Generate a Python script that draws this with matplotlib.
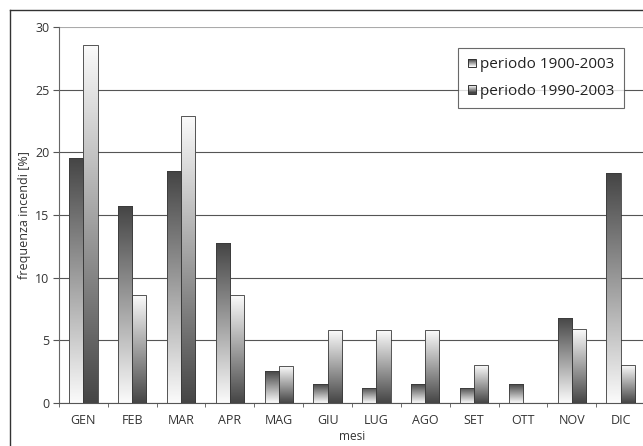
import numpy as np
import matplotlib
matplotlib.use("Agg")
import matplotlib.pyplot as plt
from matplotlib.colors import LinearSegmentedColormap
from matplotlib.lines import Line2D
from matplotlib.patches import Rectangle
from matplotlib.legend_handler import HandlerBase

mesi = ["GEN", "FEB", "MAR", "APR", "MAG", "GIU", "LUG", "AGO", "SET", "OTT", "NOV", "DIC"]
periodo_1900_2003 = [19.55, 15.7, 18.5, 12.75, 2.55, 1.5, 1.2, 1.5, 1.2, 1.5, 6.8, 18.35]
periodo_1990_2003 = [28.6, 8.6, 22.9, 8.6, 2.95, 5.8, 5.8, 5.8, 3.0, 0.0, 5.9, 3.0]
labels = ["periodo 1900-2003", "periodo 1990-2003"]

plt.rcParams["font.family"] = ["Open Sans", "DejaVu Sans"]

DARK = "#454545"
LIGHT = "#fbfbfb"
cmap_down = LinearSegmentedColormap.from_list("down", [LIGHT, DARK])  # dark on top
cmap_up = LinearSegmentedColormap.from_list("up", [DARK, LIGHT])      # light on top


class GradientHandler(HandlerBase):
    """Small square legend key filled with a stepped vertical gradient."""

    def __init__(self, dark_top):
        super().__init__()
        self.dark_top = dark_top

    def create_artists(self, legend, orig_handle, xdescent, ydescent,
                       width, height, fontsize, trans):
        size = min(width, height) * 0.8
        x0 = -xdescent + (width - size) / 2
        y0 = -ydescent + (height - size) / 2
        n = 8
        cm = cmap_down if self.dark_top else cmap_up
        arts = []
        for i in range(n):
            r = Rectangle((x0, y0 + i * size / n), size, size / n,
                          facecolor=cm(i / (n - 1)), edgecolor="none", transform=trans)
            arts.append(r)
        arts.append(Rectangle((x0, y0), size, size, facecolor="none",
                              edgecolor="#333333", lw=0.7, transform=trans))
        return arts


fig = plt.figure(figsize=(6.43, 4.46), dpi=100)
W, H = 643, 446
ax = fig.add_axes([59 / W, 43 / H, 586 / W, 376 / H])

x = np.arange(len(mesi))
bw = 0.29
grad = np.linspace(0, 1, 256).reshape(-1, 1)

for offset, vals, cm in [(-bw / 2, periodo_1900_2003, cmap_down),
                         (bw / 2, periodo_1990_2003, cmap_up)]:
    bars = ax.bar(x + offset, vals, width=bw, facecolor="none",
                  edgecolor="#3a3a3a", linewidth=0.6, zorder=3)
    for b in bars:
        if b.get_height() <= 0:
            b.set_visible(False)
            continue
        bx, by = b.get_x(), b.get_y()
        im = ax.imshow(grad, cmap=cm, aspect="auto", origin="lower",
                       extent=(bx, bx + b.get_width(), by, by + b.get_height()),
                       zorder=2.5, interpolation="bilinear")
        im.set_clip_path(b)

ax.set_xlim(-0.5, len(mesi) - 0.5)
ax.set_ylim(0, 30)
ax.set_yticks(range(0, 31, 5))
ax.set_xticks(x)
ax.set_xticklabels(mesi)
ax.set_xticks(np.arange(-0.5, len(mesi), 1), minor=True)
ax.tick_params(axis="x", which="major", length=0, pad=8, labelsize=9, colors="#333333")
ax.tick_params(axis="x", which="minor", length=3, color="#555555", direction="out")
ax.tick_params(axis="y", length=4, color="#555555", labelsize=9, colors="#333333", pad=3)

ax.yaxis.grid(True, color="#555555", linewidth=0.8, zorder=1)
ax.set_axisbelow(True)
for side in ["top", "right"]:
    ax.spines[side].set_visible(False)
ax.spines["left"].set_color("#666666")
ax.spines["bottom"].set_color("#555555")
ax.get_ygridlines()[-1].set_color("#aaaaaa")

ax.set_ylabel("frequenza incendi [%]", fontsize=9, color="#333333", labelpad=3)
ax.set_xlabel("mesi", fontsize=8.5, color="#333333", labelpad=2)

h1 = Rectangle((0, 0), 1, 1)
h2 = Rectangle((0, 0), 1, 1)
leg = ax.legend([h1, h2], labels, loc="upper right", bbox_to_anchor=(624 / W, (446 - 48) / H),
                bbox_transform=fig.transFigure, fontsize=11, frameon=True, fancybox=False,
                handler_map={h1: GradientHandler(True), h2: GradientHandler(False)},
                handlelength=0.7, handletextpad=0.2, labelspacing=0.75,
                borderpad=0.6, borderaxespad=0)
leg.get_frame().set_edgecolor("#444444")
leg.get_frame().set_linewidth(0.8)
for t in leg.get_texts():
    t.set_color("#222222")

# outer frame around the chart (cropped on the right and bottom)
fig.add_artist(Line2D([10 / W, 10 / W], [0, 1 - 10 / H], transform=fig.transFigure,
                      color="#333333", lw=1.0))
fig.add_artist(Line2D([10 / W, 1], [1 - 10 / H, 1 - 10 / H], transform=fig.transFigure,
                      color="#333333", lw=1.0))

fig.savefig("out.png", dpi=100)
